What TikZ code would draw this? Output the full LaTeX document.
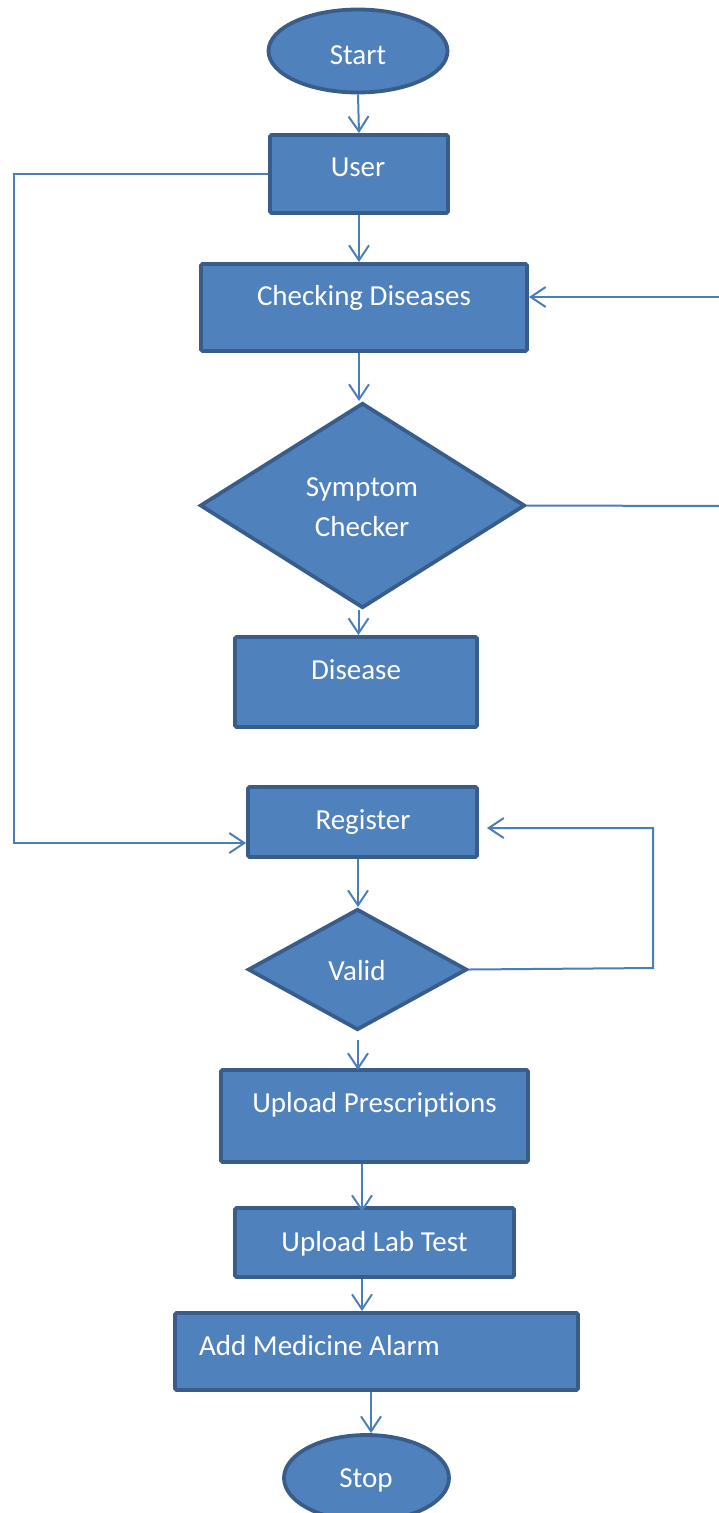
\documentclass[tikz,border=0pt]{standalone}
\usepackage{fontspec}
\setmainfont[Ligatures=NoCommon]{Carlito}
\usetikzlibrary{arrows.meta,shapes.geometric}
\definecolor{boxfill}{HTML}{4F81BD}
\definecolor{boxline}{HTML}{385D8A}
\definecolor{wire}{HTML}{4A7EBB}
\begin{document}
\begin{tikzpicture}[x=1pt,y=-1pt,
  shapebase/.style={draw=boxline,fill=boxfill,line width=3.8pt,inner sep=0pt},
  procbox/.style={shapebase,rectangle,rounded corners=1.5pt},
  termbox/.style={shapebase,ellipse},
  decbox/.style={shapebase,diamond,aspect=1.6},
  lbl/.style={text=white,font=\fontsize{29}{35}\selectfont,anchor=base,inner sep=0pt},
  flow/.style={draw=wire,line width=2pt,-{Straight Barb[length=15pt,width=20pt,line width=2pt]}},
  wireline/.style={draw=wire,line width=2pt}]
\useasboundingbox (0,0) rectangle (719,1513);

% shapes
\node[termbox,minimum width=179pt,minimum height=83pt] (start) at (358,51) {};
\node[procbox,minimum width=178pt,minimum height=78pt] (user) at (359,174) {};
\node[procbox,minimum width=326pt,minimum height=87pt] (check) at (364,307.5) {};
\node[decbox,minimum width=325pt,minimum height=205pt] (sym) at (362.5,505.5) {};
\node[procbox,minimum width=242pt,minimum height=90pt] (dis) at (356,682) {};
\node[procbox,minimum width=229pt,minimum height=70pt] (reg) at (362.5,822) {};
\node[decbox,minimum width=219pt,minimum height=121pt] (valid) at (357.5,969.5) {};
\node[procbox,minimum width=307pt,minimum height=92pt] (pres) at (374.5,1116) {};
\node[procbox,minimum width=279pt,minimum height=69pt] (lab) at (374.5,1242.5) {};
\node[procbox,minimum width=403pt,minimum height=77pt] (alarm) at (376.5,1351.5) {};
\node[termbox,minimum width=165pt,minimum height=86pt] (stop) at (366.5,1478) {};

% texts
\node[lbl] (tstart) at (358,64.5) {Start};
\node[lbl] (tuser) at (358,176.5) {User};
\node[lbl] (tcheck) at (364,305.5) {Checking Diseases};
\node[lbl] (tsym1) at (362,496.5) {Symptom};
\node[lbl] (tsym2) at (362,536.5) {Checker};
\node[lbl] (tdis) at (356,679.5) {Disease};
\node[lbl] (treg) at (363,829.5) {Register};
\node[lbl] (tvalid) at (357,980.5) {Valid};
\node[lbl] (tpres) at (374.5,1112.5) {Upload Prescriptions};
\node[lbl] (tlab) at (374.5,1251.5) {Upload Lab Test};
\node[lbl,anchor=base west] (talarm) at (199,1355.5) {Add Medicine Alarm};
\node[lbl] (tstop) at (366,1487.5) {Stop};

% junction points of the loops
\coordinate (symout) at (725,506);
\coordinate (symback) at (725,297);
\coordinate (userl) at (14,174);
\coordinate (regl) at (14,843);
\coordinate (valr) at (653,968);
\coordinate (valtop) at (653,828);
\coordinate (regr) at (487,828);
\coordinate (validlow) at (358,1040);
\coordinate (presin) at (358,1070);

% main flow
\draw[flow] (start.south) -- (user.north);
\draw[flow] (user.south) -- (check.north -| user.south);
\draw[flow] (check.south -| user.south) -- (sym.north -| user.south);
\draw[flow] ([xshift=-4pt]sym.south) -- ([xshift=-4pt]sym.south |- dis.north);
\draw[flow] ([xshift=-4.5pt]reg.north |- reg.south) -- ([xshift=-4.5pt]reg.north |- valid.north);
\draw[flow] (validlow) -- (presin);
\draw[flow] ([xshift=-12.5pt]pres.south) -- ([xshift=-12.5pt,yshift=-6pt]lab.north);
\draw[flow] ([xshift=-12.5pt]lab.south) -- ([xshift=-12.5pt]alarm.north -| lab.south);
\draw[flow] ([xshift=-5.5pt]alarm.south) -- ([xshift=-5.5pt]alarm.south |- stop.north);

% loops
\draw[wireline] (sym.east) -- (symout) -- (symback);
\draw[flow] (symback) -- (check.east |- symback);
\draw[flow] (user.west |- userl) -- (userl) -- (regl) -- (reg.west |- regl);
\draw[flow] (valid.east) -- (valr) -- (valtop) -- (regr);
\end{tikzpicture}
\end{document}
